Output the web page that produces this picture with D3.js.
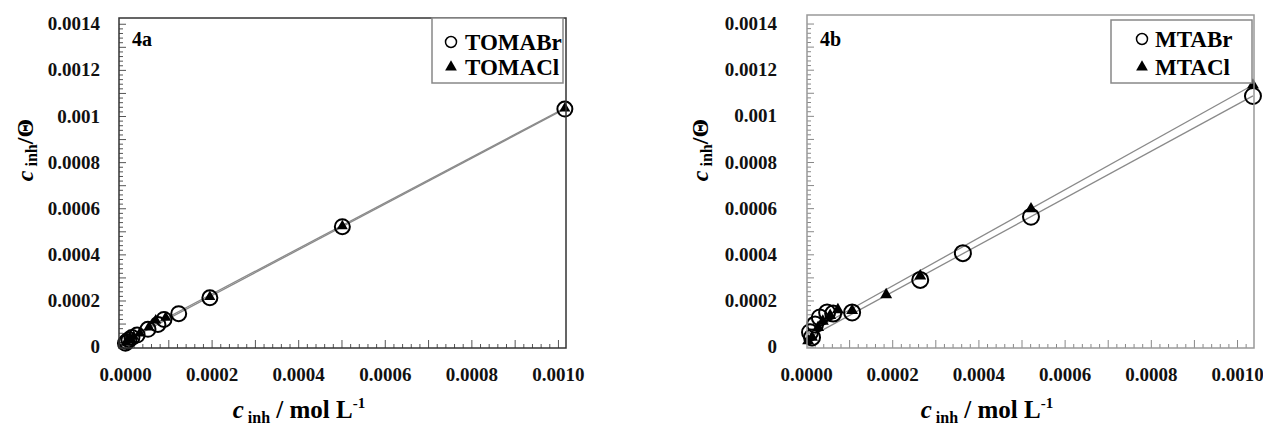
<!DOCTYPE html>
<html>
  <head>
    <meta charset="utf-8">
    <title>c inh / Theta vs c inh</title>
    <script src="https://d3js.org/d3.v7.min.js"></script>
    <style>
      body { margin: 0; background: #fff; }
    </style>
  </head>
  <body>
    <div id="chart"></div>
    <script>
      // Tick values and their printed labels
      var xTicks = [0, 0.0002, 0.0004, 0.0006, 0.0008, 0.0010];
      var xTickLabels = ["0.0000", "0.0002", "0.0004", "0.0006", "0.0008", "0.0010"];
      var yTicks = [0, 0.0002, 0.0004, 0.0006, 0.0008, 0.001, 0.0012, 0.0014];
      var yTickLabels = ["0", "0.0002", "0.0004", "0.0006", "0.0008", "0.001", "0.0012", "0.0014"];

      // Panel 4a
      var tomabrX = [0.000001, 0.000004, 0.000009, 0.000016, 0.000028, 0.000053, 0.000076, 0.00009, 0.000124, 0.000196, 0.000502, 0.001016];
      var tomabrY = [0.000015, 0.000022, 0.00003, 0.00004, 0.00005, 0.000075, 0.000096, 0.000118, 0.000143, 0.000212, 0.00052, 0.00103];
      var tomaclX = [0.000002, 0.000006, 0.000012, 0.00002, 0.000034, 0.000055, 0.000071, 0.000094, 0.000196, 0.000502, 0.001016];
      var tomaclY = [0.000018, 0.000026, 0.000034, 0.000044, 0.000058, 0.000084, 0.000114, 0.000126, 0.000216, 0.000523, 0.001033];
      // fit lines: [intercept, slope]
      var fitTOMABr = [0.000022, 0.993];
      var fitTOMACl = [0.000029, 0.990];

      // Panel 4b
      var mtabrX = [0.0000093, 0.000014, 0.000021, 0.000032, 0.000049, 0.000063, 0.000107, 0.000265, 0.000364, 0.000522, 0.001037];
      var mtabrY = [0.000062, 0.00004, 0.000096, 0.000126, 0.000148, 0.000143, 0.000148, 0.000289, 0.000405, 0.000563, 0.001086];
      var mtaclX = [0.000005, 0.000014, 0.000028, 0.000039, 0.000056, 0.000074, 0.000107, 0.000186, 0.000265, 0.000522, 0.001037];
      var mtaclY = [0.000025, 0.00004, 0.000083, 0.00011, 0.000135, 0.00016, 0.000156, 0.000225, 0.000306, 0.000597, 0.001133];
      var fitMTABr = [0.000033, 1.016];
      var fitMTACl = [0.000054, 1.041];

      var FONT = "'Liberation Serif', 'Times New Roman', serif";

      var svg = d3.select("#chart")
                  .append("svg")
                  .attr("width", 1263)
                  .attr("height", 429)
                  .attr("font-family", FONT)
                  .attr("font-weight", "bold");

      function zip(xs, ys) {
        return xs.map(function(d, i) { return { x: d, y: ys[i] }; });
      }

      function drawPanel(p) {
        var x = d3.scaleLinear().domain(p.xDomain).range([p.left, p.right]);
        var y = d3.scaleLinear().domain(p.yDomain).range([p.bottom, p.top]);
        var g = svg.append("g");

        // minor/major ticks inside the frame
        var minorY = d3.range(0, 71).map(function(i) { return i * 0.00002; });
        var minorX = d3.range(0, 52).map(function(i) { return i * 0.00002; });
        function isMajor(d) { var k = d / 0.0001; return Math.abs(k - Math.round(k)) < 1e-6; }

        var yt = g.append("g")
           .attr("transform", "translate(" + p.left + ",0)")
           .call(d3.axisRight(y).tickValues(minorY.filter(function(d) { return d <= p.yDomain[1]; })).tickSize(4).tickFormat(""));
        yt.select(".domain").remove();
        yt.selectAll(".tick line").attr("stroke", p.tickColor)
          .attr("x2", function(d) { return isMajor(d) ? 7 : 4; });

        var xt = g.append("g")
           .attr("transform", "translate(0," + p.bottom + ")")
           .call(d3.axisTop(x).tickValues(minorX.filter(function(d) { return d >= p.xDomain[0] && d <= p.xDomain[1]; })).tickSize(4).tickFormat(""));
        xt.select(".domain").remove();
        xt.selectAll(".tick line").attr("stroke", p.tickColor)
          .attr("y2", function(d) { return isMajor(d) ? -8 : -4; });

        // tick labels
        var yl = g.append("g")
           .attr("transform", "translate(" + p.left + ",0)")
           .call(d3.axisLeft(y).tickValues(yTicks).tickSize(0).tickPadding(p.yPad)
                 .tickFormat(function(d, i) { return yTickLabels[i]; }));
        yl.select(".domain").remove();
        yl.attr("font-family", FONT).attr("font-size", 19);
        yl.selectAll("text").attr("fill", "#111");

        var xl = g.append("g")
           .attr("transform", "translate(0," + p.bottom + ")")
           .call(d3.axisBottom(x).tickValues(xTicks).tickSize(0).tickPadding(20)
                 .tickFormat(function(d, i) { return xTickLabels[i]; }));
        xl.select(".domain").remove();
        xl.attr("font-family", FONT).attr("font-size", 19);
        xl.selectAll("text").attr("fill", "#111");

        // fit lines
        [[p.fits[0], p.seriesA], [p.fits[1], p.seriesB]].forEach(function(f) {
          var xs = d3.extent(f[1], function(d) { return d.x; });
          var pts = xs.map(function(v) { return { x: v, y: f[0][0] + f[0][1] * v }; });
          g.append("path")
           .datum(pts)
           .attr("fill", "none")
           .attr("stroke", "#8a8a8a")
           .attr("stroke-width", 1.3)
           .attr("d", d3.line().x(function(d) { return x(d.x); }).y(function(d) { return y(d.y); }));
        });

        // circles (Br)
        g.selectAll(".circ")
         .data(p.seriesA)
         .enter()
         .append("circle")
         .attr("cx", function(d) { return x(d.x); })
         .attr("cy", function(d) { return y(d.y); })
         .attr("r", p.circleR)
         .attr("fill", "none")
         .attr("stroke", "#000")
         .attr("stroke-width", 2);

        // triangles (Cl)
        g.selectAll(".tri")
         .data(p.seriesB)
         .enter()
         .append("path")
         .attr("d", d3.symbol(d3.symbolTriangle).size(p.triSize))
         .attr("transform", function(d) { return "translate(" + x(d.x) + "," + y(d.y) + ")"; })
         .attr("fill", "#000");

        // frame
        g.append("rect")
         .attr("x", p.left).attr("y", p.top)
         .attr("width", p.right - p.left).attr("height", p.bottom - p.top)
         .attr("fill", "none")
         .attr("stroke", p.frameColor)
         .attr("stroke-width", 1.5);

        // panel tag
        g.append("text")
         .attr("x", p.left + 13).attr("y", 46)
         .attr("font-size", 20)
         .text(p.tag);

        // legend
        var lg = p.legend;
        g.append("rect")
         .attr("x", lg.x).attr("y", lg.y).attr("width", lg.w).attr("height", lg.h)
         .attr("fill", "#fff").attr("stroke", "#888").attr("stroke-width", 1.5);
        g.append("circle")
         .attr("cx", lg.mx).attr("cy", lg.y1)
         .attr("r", 5.5).attr("fill", "none").attr("stroke", "#000").attr("stroke-width", 1.5);
        g.append("path")
         .attr("d", d3.symbol(d3.symbolTriangle).size(60))
         .attr("transform", "translate(" + lg.mx + "," + lg.y2 + ")");
        g.append("text").attr("x", lg.tx).attr("y", lg.y1 + 8).attr("font-size", 23).text(p.names[0]);
        g.append("text").attr("x", lg.tx).attr("y", lg.y2 + 8).attr("font-size", 23).text(p.names[1]);

        // x axis title
        var xtT = g.append("text")
          .attr("x", p.xTitleX).attr("y", 418)
          .attr("text-anchor", "middle")
          .attr("font-size", 25);
        xtT.append("tspan").attr("font-style", "italic").text("c");
        xtT.append("tspan").attr("font-size", 16).attr("dy", 5).text(" inh");
        xtT.append("tspan").attr("dy", -5).text(" / mol L");
        xtT.append("tspan").attr("font-size", 15).attr("dy", -10).text("-1");

        // y axis title
        var ytT = g.append("text")
          .attr("transform", "translate(" + p.yTitleX + ",150) rotate(-90)")
          .attr("text-anchor", "middle")
          .attr("font-size", 24);
        ytT.append("tspan").attr("font-style", "italic").text("c");
        ytT.append("tspan").attr("font-size", 16).attr("dy", 4).text(" inh");
        ytT.append("tspan").attr("dy", -4).text("/Θ");
      }

      drawPanel({
        tag: "4a",
        names: ["TOMABr", "TOMACl"],
        seriesA: zip(tomabrX, tomabrY),
        seriesB: zip(tomaclX, tomaclY),
        fits: [fitTOMABr, fitTOMACl],
        xDomain: [-0.0000139, 0.0010186],
        yDomain: [-0.000006, 0.001425],
        left: 119, right: 566, top: 18, bottom: 348,
        yPad: 19, yTitleX: 33, xTitleX: 299,
        circleR: 7.5, triSize: 52,
        frameColor: "#333", tickColor: "#555",
        legend: { x: 432, y: 18, w: 131, h: 65, mx: 451, tx: 465, y1: 42, y2: 67 }
      });

      drawPanel({
        tag: "4b",
        names: ["MTABr", "MTACl"],
        seriesA: zip(mtabrX, mtabrY),
        seriesB: zip(mtaclX, mtaclY),
        fits: [fitMTABr, fitMTACl],
        xDomain: [0.0000023, 0.0010394],
        yDomain: [-0.000006, 0.001437],
        left: 807, right: 1254, top: 15, bottom: 348,
        yPad: 30, yTitleX: 708, xTitleX: 987,
        circleR: 8, triSize: 62,
        frameColor: "#999", tickColor: "#888",
        legend: { x: 1111, y: 20, w: 141, h: 63, mx: 1142, tx: 1155, y1: 39, y2: 67 }
      });
    </script>
  </body>
</html>
